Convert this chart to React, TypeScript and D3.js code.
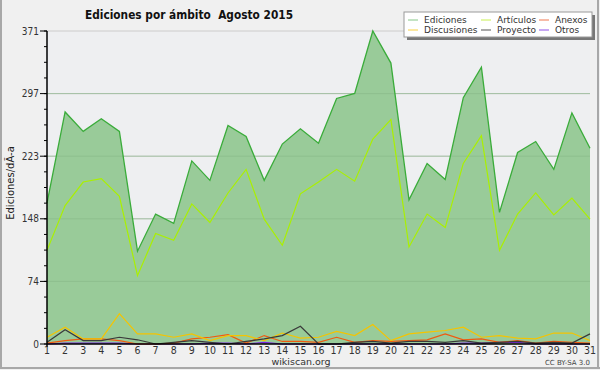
import React from "react";
import * as d3 from "d3";

const days = d3.range(1, 32);
const ediciones = [167,275,252,267,252,110,154,143,217,194,259,246,194,237,255,238,291,297,371,333,171,214,195,292,328,156,227,240,207,274,232];
const articulos = [111,164,192,196,175,81,131,123,166,144,179,207,148,117,178,192,207,193,243,266,115,154,138,214,247,111,154,179,153,173,148];
const discusiones = [8,20,6,6,36,12,12,8,12,4,10,10,4,13,7,8,15,10,23,4,12,14,16,20,8,10,7,6,13,13,4];
const anexos = [1,4,6,6,4,0,0,1,6,8,11,1,10,3,3,2,8,2,4,3,4,5,12,5,6,2,4,1,3,2,1];
const proyecto = [2,17,4,4,8,5,0,2,4,2,0,3,6,10,21,0,0,2,3,1,3,3,2,4,1,2,3,1,2,1,12];
const otros = [0,1,1,1,1,0,0,0,0,1,1,0,2,0,0,0,0,0,0,0,0,0,0,1,1,2,2,0,0,0,0];
const yTicks = [0, 74.2, 148.4, 222.6, 296.8, 371];
const yTickLabels = ["0", "74", "148", "223", "297", "371"];

const W = 600, H = 370;
const L = 47, R = 590, T = 31, B = 344;

export default function App() {
  const x = d3.scaleLinear().domain([1, 31]).range([L, R]);
  const y = d3.scaleLinear().domain([0, 371]).range([B, T]);
  const line = (vals: number[]) =>
    d3.line<number>().x((_, i) => x(days[i])).y((v) => y(v))(vals) || "";
  const area = d3.area<number>().x((_, i) => x(days[i])).y0(y(0)).y1((v) => y(v))(ediciones) || "";
  const minor = d3.range(0, 21).map((i) => i * 18.55);
  const font = "'DejaVu Sans', sans-serif";
  const narrow = "'Liberation Sans Narrow', 'DejaVu Sans Condensed', sans-serif";

  const series = [
    { name: "Ediciones", color: "#88c888" },
    { name: "Artículos", color: "#c8f050" },
    { name: "Anexos", color: "#f07850" },
    { name: "Discusiones", color: "#f8d040" },
    { name: "Proyecto", color: "#555555" },
    { name: "Otros", color: "#9050e8" },
  ];
  const legX = [408, 481, 539];
  const legY = [20, 30];

  return (
    <svg width={W} height={H} style={{ position: "absolute", left: 0, top: 0 }}>
      <rect x={0} y={0} width={W} height={H} fill="#f0f0f0" />
      <line x1={1} y1={0} x2={1} y2={368} stroke="#a8a8a8" strokeWidth={2} />
      <line x1={598} y1={0} x2={598} y2={368} stroke="#a8a8a8" strokeWidth={2} />
      <line x1={0} y1={368} x2={600} y2={368} stroke="#a8a8a8" strokeWidth={2} />
      <rect x={L} y={T} width={R - L} height={B - T} fill="#eeeff1" />
      {yTicks.slice(1).map((t) => (
        <line key={t} x1={L} x2={R} y1={y(t)} y2={y(t)} stroke="#cccccc" strokeWidth={1} />
      ))}
      <path d={area} fill="#99cb99" />
      {yTicks.slice(1, 5).map((t) => (
        <line key={"g" + t} x1={L} x2={R} y1={y(t)} y2={y(t)} stroke="#88b888" strokeWidth={1} opacity={0.6} />
      ))}
      <path d={line(ediciones)} fill="none" stroke="#3aac3a" strokeWidth={1.3} />
      <path d={line(articulos)} fill="none" stroke="#aaf000" strokeWidth={1.2} />
      <path d={line(otros)} fill="none" stroke="#7a22e0" strokeWidth={1.2} />
      <path d={line(anexos)} fill="none" stroke="#f05a10" strokeWidth={1.2} />
      <path d={line(discusiones)} fill="none" stroke="#f5c400" strokeWidth={1.2} />
      <path d={line(proyecto)} fill="none" stroke="#3a3a3a" strokeWidth={1.2} />
      {/* axes */}
      <line x1={L} x2={L} y1={T} y2={B + 3} stroke="#000" strokeWidth={1.5} />
      <line x1={L} x2={R} y1={B} y2={B} stroke="#000" strokeWidth={1.5} />
      {minor.map((t) => (
        <line key={"m" + t} x1={L - 3} x2={L} y1={y(t)} y2={y(t)} stroke="#000" strokeWidth={1} />
      ))}
      {yTicks.map((t, i) => (
        <g key={"t" + t}>
          <line x1={L - 7} x2={L} y1={y(t)} y2={y(t)} stroke="#000" strokeWidth={1} />
          <text x={L - 8} y={y(t)} dy="0.35em" textAnchor="end" fontSize={10} fontFamily={narrow} fill="#333">
            {yTickLabels[i]}
          </text>
        </g>
      ))}
      {days.map((d) => (
        <text key={"x" + d} x={x(d)} y={354} textAnchor="middle" fontSize={10.5} fontFamily={narrow} fill="#333">
          {d}
        </text>
      ))}
      <text x={10} y={183} transform="rotate(-90 10 183)" dy="0.35em" textAnchor="middle" fontSize={10} fontFamily={font} fill="#222">
        Ediciones/dÃ-a
      </text>
      <text x={85} y={19} fontSize={12.5} fontWeight="bold" fontFamily={font} fill="#111" textLength={208} lengthAdjust="spacingAndGlyphs">
        {"Ediciones por ámbito\u00A0 Agosto 2015"}
      </text>
      <text x={301} y={365} textAnchor="middle" fontSize={9.5} fontFamily={font} fill="#333">
        wikiscan.org
      </text>
      <text x={590} y={365} textAnchor="end" fontSize={7} fontFamily={font} fill="#444">
        CC BY-SA 3.0
      </text>
      {/* legend */}
      <rect x={407} y={15} width={188} height={25} fill="#777" />
      <rect x={404} y={12} width={188} height={25} fill="#fff" stroke="#999" strokeWidth={1} />
      {series.map((s, i) => {
        const cx = legX[i % 3];
        const cy = legY[Math.floor(i / 3)];
        return (
          <g key={s.name}>
            <line x1={cx} x2={cx + 10} y1={cy} y2={cy} stroke={s.color} strokeWidth={1} />
            <text x={cx + 16} y={cy} dy="0.35em" fontSize={9} fontFamily={font} fill="#333">
              {s.name}
            </text>
          </g>
        );
      })}
    </svg>
  );
}
